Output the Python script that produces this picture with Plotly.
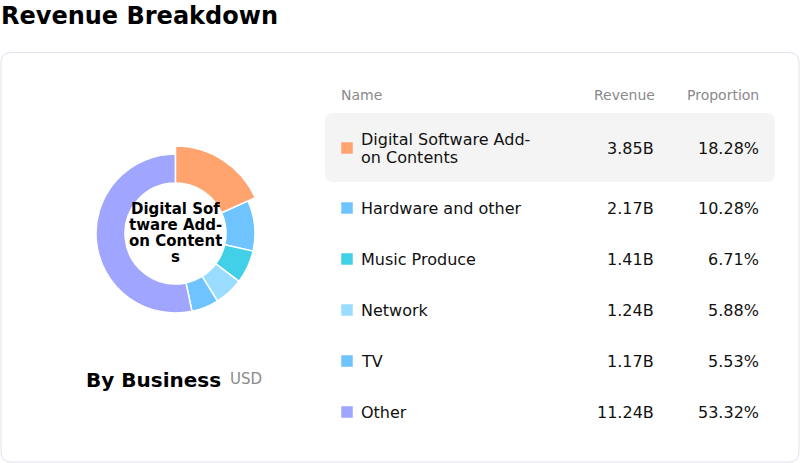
import plotly.graph_objects as go

# data
names = ["Digital Software Add-on Contents", "Hardware and other", "Music Produce",
         "Network", "TV", "Other"]
revenue = [3.85, 2.17, 1.41, 1.24, 1.17, 11.24]  # billions USD
proportion = [18.28, 10.28, 6.71, 5.88, 5.53, 53.32]
colors = ["#FFA46F", "#6FC3FF", "#41D0E8", "#9ADCFF", "#6FC3FF", "#A0A5FF"]
highlight = 0  # index of the selected business

W, H = 800, 463


def px_x(v):
    return v / W


def px_y(v):
    return 1 - v / H


def rounded_rect(x0, y0, x1, y1, r):
    # svg path in pixel space (axes x/y are in pixels)
    return (f"M {x0+r},{y0} L {x1-r},{y0} Q {x1},{y0} {x1},{y0+r} "
            f"L {x1},{y1-r} Q {x1},{y1} {x1-r},{y1} L {x0+r},{y1} "
            f"Q {x0},{y1} {x0},{y1-r} L {x0},{y0+r} Q {x0},{y0} {x0+r},{y0} Z")


fig = go.Figure()

# donut geometry (pixels)
cx, cy, r_out, r_in, r_big = 175.5, 233.5, 79.5, 50.5, 87.5

fig.add_trace(go.Pie(
    values=proportion, labels=names, sort=False, direction="clockwise",
    hole=r_in / r_out, textinfo="none", hoverinfo="skip", showlegend=False,
    marker=dict(colors=[("rgba(0,0,0,0)" if i == highlight else c) for i, c in enumerate(colors)],
                line=dict(color="white", width=1.5)),
    domain=dict(x=[px_x(cx - r_out), px_x(cx + r_out)], y=[px_y(cy + r_out), px_y(cy - r_out)]),
))
# highlighted slice drawn larger
fig.add_trace(go.Pie(
    values=proportion, labels=names, sort=False, direction="clockwise",
    hole=r_in / r_big, textinfo="none", hoverinfo="skip", showlegend=False,
    marker=dict(colors=[(c if i == highlight else "rgba(0,0,0,0)") for i, c in enumerate(colors)],
                line=dict(color=[("white" if i == highlight else "rgba(0,0,0,0)") for i in range(len(names))],
                          width=1.5)),
    domain=dict(x=[px_x(cx - r_big), px_x(cx + r_big)], y=[px_y(cy + r_big), px_y(cy - r_big)]),
))

# table rows
row_y = [148] + [208 + 51 * i for i in range(len(names) - 1)]

fig.add_trace(go.Scatter(
    x=[347] * len(names), y=row_y, mode="markers", hoverinfo="skip", showlegend=False,
    marker=dict(symbol="square", size=11.5, color=colors, line=dict(width=0)),
))

annotations = []
font = "DejaVu Sans, sans-serif"


def add_text(x, y, text, size, color="#111", bold=False, xanchor="left", **kw):
    annotations.append(dict(
        x=x, y=y, xref="x", yref="y", text=f"<b>{text}</b>" if bold else text,
        showarrow=False, xanchor=xanchor, yanchor="middle",
        font=dict(family=font, size=size, color=color), **kw))


add_text(339, 95, "Name", 14, "#8a8a8a")
add_text(657, 95, "Revenue", 14, "#8a8a8a", xanchor="right")
add_text(761, 95, "Proportion", 14, "#8a8a8a", xanchor="right")

for i, n in enumerate(names):
    if i == highlight:
        add_text(359, row_y[i] - 9, "Digital Software Add-", 16)
        add_text(359, row_y[i] + 9, "on Contents", 16)
    else:
        add_text(359, row_y[i], n, 16)
    add_text(656, row_y[i], f"{revenue[i]:.2f}B", 16, xanchor="right")
    add_text(761, row_y[i], f"{proportion[i]:.2f}%", 16, xanchor="right")

# donut centre label (selected business, wrapped by character)
for j, part in enumerate(["Digital Sof", "tware Add-", "on Content", "s"]):
    add_text(cx, 209 + 16 * j, part, 15, "#000", bold=True, xanchor="center",
             height=16, borderpad=0)

# title and subtitle
add_text(0, 16, "Revenue Breakdown", 24, "#000", bold=True, xshift=-1)
add_text(84, 380, "By Business", 20, "#000", bold=True)
add_text(228, 379, "USD", 15, "#8a8a8a")

fig.update_layout(
    width=W, height=H, margin=dict(l=0, r=0, t=0, b=0),
    paper_bgcolor="white", plot_bgcolor="rgba(0,0,0,0)",
    xaxis=dict(range=[0, W], visible=False, fixedrange=True, domain=[0, 1]),
    yaxis=dict(range=[H, 0], visible=False, fixedrange=True, domain=[0, 1]),
    annotations=annotations,
    shapes=[
        dict(type="path", path=rounded_rect(1, 52.5, 799, 462, 10), xref="x", yref="y",
             line=dict(color="#E1E0EE", width=1), fillcolor="white", layer="below"),
        dict(type="path", path=rounded_rect(325, 113, 775, 182, 9), xref="x", yref="y",
             line=dict(width=0), fillcolor="#F4F4F4", layer="below"),
    ],
)

fig.write_html("out.html", config={"displayModeBar": False},
               post_script="document.body.style.margin='0';")
